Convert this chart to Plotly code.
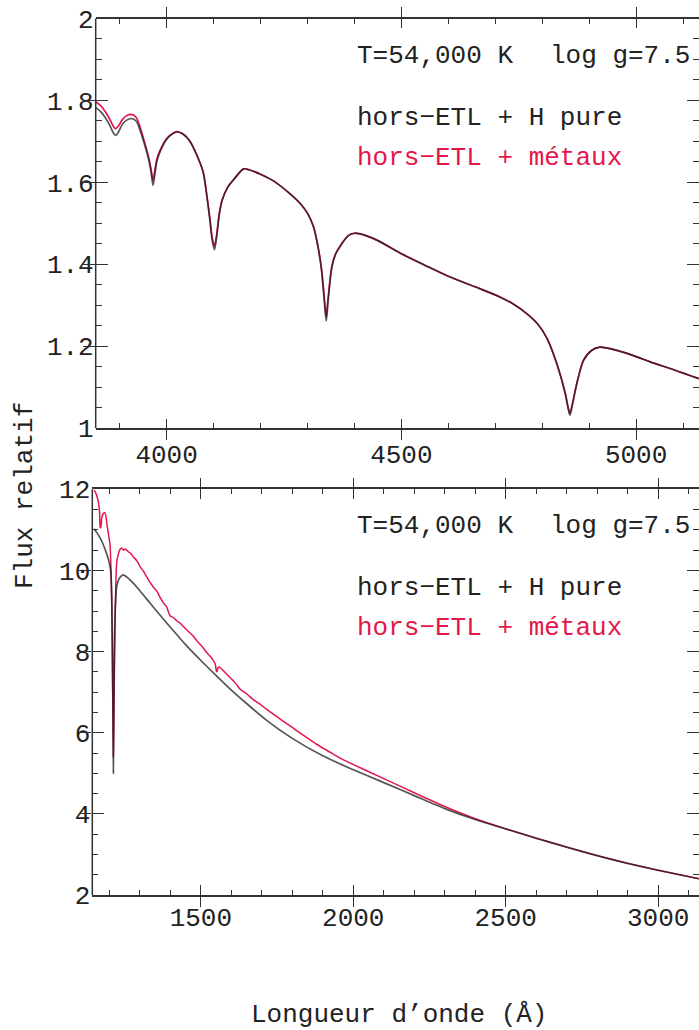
import plotly.graph_objects as go

W, H = 699, 1030

# ---------------- data: top panel (optical, Balmer lines) ----------------
wl_top = [3849, 3860, 3870, 3880, 3886, 3891, 3897, 3905, 3915, 3925, 3935, 3945,
          3955, 3962, 3967, 3971, 3975, 3980, 3990, 4000, 4012, 4022, 4035, 4050,
          4065, 4078, 4086, 4092, 4097, 4102, 4107, 4112, 4118, 4130, 4143, 4164,
          4175, 4200, 4230, 4260, 4285, 4300, 4313, 4322, 4330, 4336, 4340, 4344,
          4352, 4360, 4370, 4387, 4400, 4420, 4450, 4500, 4550, 4604, 4660, 4711,
          4740, 4767, 4790, 4810, 4831, 4849, 4855, 4859, 4863, 4874, 4888, 4905,
          4923, 4959, 5000, 5030, 5080, 5134]
flux_top_H = [1.783, 1.772, 1.757, 1.737, 1.722, 1.715, 1.722, 1.740, 1.752, 1.756, 1.750, 1.722,
              1.685, 1.655, 1.625, 1.593, 1.620, 1.655, 1.685, 1.705, 1.718, 1.723, 1.718, 1.700,
              1.665, 1.625, 1.564, 1.510, 1.460, 1.436, 1.470, 1.520, 1.555, 1.588, 1.607, 1.633,
              1.631, 1.620, 1.602, 1.575, 1.548, 1.525, 1.491, 1.445, 1.385, 1.310, 1.262, 1.310,
              1.393, 1.425, 1.445, 1.470, 1.476, 1.472, 1.458, 1.426, 1.398, 1.369, 1.344, 1.320,
              1.302, 1.280, 1.255, 1.220, 1.158, 1.085, 1.050, 1.032, 1.050, 1.110, 1.166, 1.190,
              1.198, 1.190, 1.175, 1.162, 1.143, 1.121]
flux_top_Z = [1.797, 1.787, 1.772, 1.752, 1.738, 1.731, 1.737, 1.752, 1.763, 1.766, 1.759, 1.730,
              1.690, 1.660, 1.632, 1.605, 1.630, 1.660, 1.688, 1.707, 1.719, 1.724, 1.718, 1.700,
              1.665, 1.625, 1.566, 1.514, 1.466, 1.445, 1.476, 1.522, 1.556, 1.588, 1.607, 1.633,
              1.631, 1.620, 1.602, 1.575, 1.548, 1.525, 1.492, 1.447, 1.390, 1.318, 1.272, 1.318,
              1.395, 1.426, 1.445, 1.470, 1.476, 1.472, 1.458, 1.426, 1.398, 1.369, 1.344, 1.320,
              1.302, 1.280, 1.255, 1.220, 1.158, 1.086, 1.053, 1.036, 1.053, 1.111, 1.166, 1.190,
              1.198, 1.190, 1.175, 1.162, 1.143, 1.121]

# ---------------- data: bottom panel (UV) ----------------
wl_bot_H = [1150, 1160, 1169, 1178, 1186, 1192, 1197, 1201, 1205, 1208, 1210, 1212,
            1213, 1214, 1216, 1219, 1224, 1232, 1240, 1246, 1255, 1279, 1300, 1334,
            1366, 1400, 1450, 1500, 1553, 1600, 1650, 1717, 1800, 1900, 1990, 2100,
            2200, 2300, 2400, 2500, 2600, 2700, 2800, 2900, 3000, 3134]
flux_bot_H = [11.03, 10.92, 10.81, 10.67, 10.52, 10.39, 10.27, 10.14, 9.95, 9.30, 8.00, 6.20,
              5.00, 5.80, 7.80, 9.00, 9.61, 9.80, 9.87, 9.89, 9.85, 9.68, 9.50, 9.19,
              8.90, 8.60, 8.17, 7.78, 7.39, 7.05, 6.72, 6.30, 5.86, 5.43, 5.12, 4.77,
              4.45, 4.13, 3.86, 3.63, 3.40, 3.18, 2.97, 2.78, 2.61, 2.40]

wl_bot_Z = [1150, 1156, 1162, 1166, 1168, 1170, 1172, 1175, 1180, 1186, 1193, 1198,
            1202, 1205, 1208, 1211, 1213, 1215, 1218, 1221, 1224, 1230, 1235, 1241,
            1246, 1252, 1262, 1270, 1279, 1290, 1301, 1312, 1322, 1334, 1345, 1356,
            1366, 1377, 1388, 1399, 1410, 1421, 1432, 1445, 1460, 1476, 1490, 1505,
            1520, 1534, 1547, 1551, 1553, 1556, 1560, 1570, 1585, 1600, 1615, 1629,
            1650, 1673, 1695, 1717, 1745, 1771, 1800, 1826, 1855, 1881, 1910, 1935,
            1960, 1990, 2100, 2200, 2300, 2400, 2500, 2600, 2700, 2800, 2900, 3000, 3134]
flux_bot_Z = [11.98, 11.90, 11.75, 11.58, 11.40, 11.06, 11.05, 11.30, 11.40, 11.42, 11.09, 10.85,
              10.65, 10.10, 9.00, 7.00, 5.40, 6.50, 8.40, 9.60, 10.19, 10.42, 10.52, 10.55,
              10.50, 10.53, 10.46, 10.42, 10.33, 10.24, 10.09, 9.98, 9.85, 9.70, 9.58, 9.49,
              9.34, 9.20, 9.10, 8.88, 8.84, 8.76, 8.70, 8.60, 8.49, 8.37, 8.24, 8.12,
              7.97, 7.86, 7.70, 7.52, 7.50, 7.60, 7.62, 7.56, 7.44, 7.33, 7.21, 7.07,
              6.96, 6.81, 6.70, 6.57, 6.42, 6.28, 6.13, 5.99, 5.84, 5.71, 5.58, 5.47,
              5.36, 5.25, 4.87, 4.52, 4.18, 3.88, 3.63, 3.40, 3.18, 2.97, 2.78, 2.61, 2.40]

label_T = "T=54,000 K"
label_g = "log g=7.5"
label_H = "hors\u2212ETL + H pure"
label_Z = "hors\u2212ETL + m\u00e9taux"
x_title = "Longueur d\u2019onde (\u00c5)"
y_title = "Flux relatif"

FONT = "Liberation Mono"
FS = 26
INK = "#222222"
AX = "#333333"
RED = "#e3174b"
BLK = "rgba(30,30,30,0.75)"

def px(x):
    return x / W

def py(y):
    return 1 - y / H

fig = go.Figure()
fig.add_trace(go.Scatter(x=wl_top, y=flux_top_Z, mode="lines",
                         line=dict(color=RED, width=1.7, shape="spline", smoothing=0.8),
                         xaxis="x", yaxis="y", showlegend=False))
fig.add_trace(go.Scatter(x=wl_top, y=flux_top_H, mode="lines",
                         line=dict(color=BLK, width=1.7, shape="spline", smoothing=0.8),
                         xaxis="x", yaxis="y", showlegend=False))
fig.add_trace(go.Scatter(x=wl_bot_Z, y=flux_bot_Z, mode="lines",
                         line=dict(color=RED, width=1.5, shape="spline", smoothing=0.5),
                         xaxis="x2", yaxis="y2", showlegend=False))
fig.add_trace(go.Scatter(x=wl_bot_H, y=flux_bot_H, mode="lines",
                         line=dict(color=BLK, width=1.7, shape="spline", smoothing=0.6),
                         xaxis="x2", yaxis="y2", showlegend=False))
# empty traces so the minor-tick overlay axes exist
for xa, ya in (("x3", "y"), ("x", "y3"), ("x4", "y2"), ("x2", "y4")):
    fig.add_trace(go.Scatter(x=[], y=[], xaxis=xa, yaxis=ya, showlegend=False, hoverinfo="skip"))

base = dict(mirror="allticks", ticks="inside", tickcolor=AX, tickwidth=1.3, showgrid=False,
            zeroline=False, automargin=False, tickfont=dict(family=FONT, size=FS, color=INK))
xmajor = dict(showline=True, linecolor=AX, linewidth=1.5, **base)
ymajor = dict(showline=False, **base)
minor = dict(showline=False, mirror="allticks", ticks="inside", tickcolor=AX,
             tickwidth=1.2, showgrid=False, zeroline=False, showticklabels=False,
             automargin=False, tick0=0)

XT = [3849, 5134]
XB = [1144, 3134]
TOP_L, BOT_L = 95.7, 92.3
TOP_Y = (18.5, 428.3)
BOT_Y = (489.3, 895)
fig.update_layout(
    width=W, height=H, margin=dict(l=0, r=0, t=0, b=0, autoexpand=False),
    paper_bgcolor="white", plot_bgcolor="white",
    xaxis=dict(domain=[px(TOP_L), 1], range=XT, anchor="y", dtick=500, tick0=0,
               ticklen=10, ticklabelstandoff=2, **xmajor),
    yaxis=dict(domain=[py(TOP_Y[1]), py(TOP_Y[0])], range=[1, 2], anchor="x", dtick=0.2, tick0=0,
               ticklen=12, ticklabelstandoff=1, **ymajor),
    xaxis2=dict(domain=[px(BOT_L), 1], range=XB, anchor="y2", dtick=500, tick0=0,
                ticklen=10, ticklabelstandoff=-2, **xmajor),
    yaxis2=dict(domain=[py(BOT_Y[1]), py(BOT_Y[0])], range=[2, 12], anchor="x2", dtick=2, tick0=0,
                ticklen=12, ticklabelstandoff=1, **ymajor),
    xaxis3=dict(overlaying="x", anchor="y", range=XT, dtick=100, ticklen=5, **minor),
    yaxis3=dict(overlaying="y", anchor="x", range=[1, 2], dtick=0.05, ticklen=6, **minor),
    xaxis4=dict(overlaying="x2", anchor="y2", range=XB, dtick=100, ticklen=5, **minor),
    yaxis4=dict(overlaying="y2", anchor="x2", range=[2, 12], dtick=0.5, ticklen=6, **minor),
)

# left frame lines (the right frame edge lies just outside the picture)
for xl, (yt, yb) in ((TOP_L, TOP_Y), (BOT_L, BOT_Y)):
    fig.add_shape(type="line", xref="paper", yref="paper", x0=px(xl), x1=px(xl),
                  y0=py(yb), y1=py(yt), line=dict(color=AX, width=1.5))

def txt(s, x, ybase, color=INK, size=FS, **kw):
    fig.add_annotation(text=s, x=px(x), y=py(ybase - 0.27 * size), xref="paper", yref="paper",
                       xanchor="left", yanchor="middle", showarrow=False,
                       font=dict(family=FONT, size=size, color=color), **kw)

for off in (0, 470):
    txt(label_T, 355, 63 + off)
    txt(label_g, 548, 63 + off)
    txt(label_H, 355, 125 + off)
    txt(label_Z, 355, 165 + off, color=RED)

fig.add_annotation(text=x_title, x=px(399), y=py(1015), xref="paper", yref="paper",
                   xanchor="center", yanchor="middle", showarrow=False,
                   font=dict(family=FONT, size=FS, color=INK))
fig.add_annotation(text=y_title, x=px(25), y=py(496), xref="paper", yref="paper",
                   xanchor="center", yanchor="middle", showarrow=False, textangle=-90,
                   font=dict(family=FONT, size=FS, color=INK))

fig.write_html("out.html")
